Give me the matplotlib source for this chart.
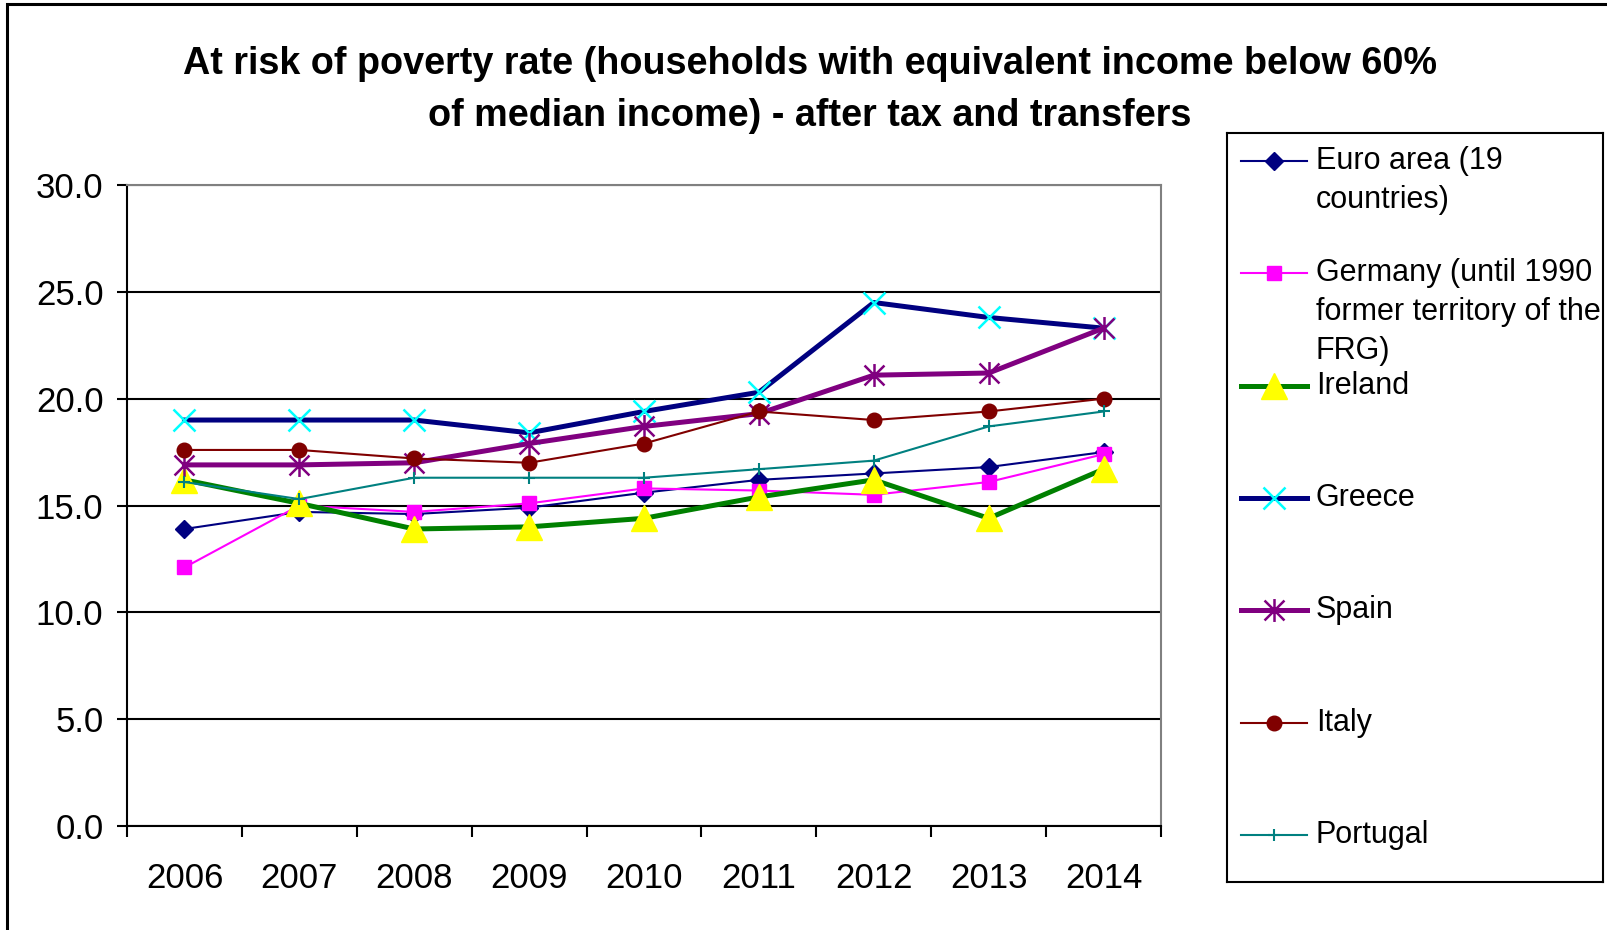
import numpy as np
import matplotlib
matplotlib.use("Agg")
import matplotlib.pyplot as plt
from matplotlib.path import Path
from matplotlib.patches import Rectangle

plt.rcParams['font.family'] = ['Liberation Sans', 'DejaVu Sans']

# at-risk-of-poverty rate, % of households
years = ['2006', '2007', '2008', '2009', '2010', '2011', '2012', '2013', '2014']
euro_area = [13.9, 14.7, 14.6, 14.9, 15.6, 16.2, 16.5, 16.8, 17.5]
germany = [12.1, 15.0, 14.7, 15.1, 15.8, 15.7, 15.5, 16.1, 17.4]
ireland = [16.2, 15.1, 13.9, 14.0, 14.4, 15.4, 16.2, 14.4, 16.7]
greece = [19.0, 19.0, 19.0, 18.4, 19.4, 20.3, 24.5, 23.8, 23.3]
spain = [16.9, 16.9, 17.0, 17.9, 18.7, 19.3, 21.1, 21.2, 23.3]
italy = [17.6, 17.6, 17.2, 17.0, 17.9, 19.4, 19.0, 19.4, 20.0]
portugal = [16.1, 15.3, 16.3, 16.3, 16.3, 16.7, 17.1, 18.7, 19.4]

labels = ['Euro area (19\ncountries)',
          'Germany (until 1990\nformer territory of the\nFRG)',
          'Ireland', 'Greece', 'Spain', 'Italy', 'Portugal']

title = ('At risk of poverty rate (households with equivalent income below 60%\n'
         'of median income) - after tax and transfers')

# asterisk marker: an x with a vertical bar through it
asterisk = Path([(-1, -1), (1, 1), (-1, 1), (1, -1), (0, -1.15), (0, 1.15)],
                [Path.MOVETO, Path.LINETO, Path.MOVETO, Path.LINETO, Path.MOVETO, Path.LINETO])

styles = [
    dict(color='#000080', lw=1.5, marker='D', ms=9.5, mfc='#000080', mec='#000080'),
    dict(color='#FF00FF', lw=1.5, marker='s', ms=10, mfc='#FF00FF', mec='#FF00FF'),
    dict(color='#008000', lw=3.6, marker='^', ms=18.5, mfc='#FFFF00', mec='#FFFF00'),
    dict(color='#000080', lw=3.6, marker='x', ms=15.5, mec='#00FFFF', mew=1.8),
    dict(color='#800080', lw=3.6, marker=asterisk, ms=16.5, mfc='none', mec='#800080', mew=1.8),
    dict(color='#800000', lw=1.5, marker='o', ms=10.5, mfc='#800000', mec='#800000'),
    dict(color='#008080', lw=1.5, marker='+', ms=9, mec='#008080', mew=1.5),
]
series = [euro_area, germany, ireland, greece, spain, italy, portugal]

W, H = 1608, 930
fig = plt.figure(figsize=(W / 100, H / 100), dpi=100)

# frame around the whole chart
fig.add_artist(Rectangle((7 / W, -0.05), 2, 1.05 - 4 / H, transform=fig.transFigure,
                         fill=False, lw=2.2, ec='black', clip_on=False))

ax = fig.add_axes([127 / W, 1 - 826 / H, (1161 - 127) / W, (826 - 185) / H])
x = np.arange(len(years))
for vals, st in zip(series, styles):
    ax.plot(x, vals, **st)

ax.set_xlim(-0.5, len(years) - 0.5)
ax.set_ylim(0, 30)
ax.set_yticks(np.arange(0, 31, 5))
ax.set_yticklabels([f'{v:.1f}' for v in np.arange(0, 31, 5)])
ax.set_xticks(x)
ax.set_xticklabels(years)
ax.set_xticks(np.arange(-0.5, len(years)), minor=True)
ax.tick_params(axis='y', direction='out', length=7, width=1.5, labelsize=25, pad=10)
ax.tick_params(axis='x', which='major', length=0, labelsize=25, pad=26)
ax.tick_params(axis='x', which='minor', direction='out', length=8, width=1.5)
ax.set_axisbelow(True)
ax.yaxis.grid(True, color='black', lw=1.5)
for side in ['left', 'bottom']:
    ax.spines[side].set_color('black')
    ax.spines[side].set_linewidth(1.5)
for side in ['top', 'right']:
    ax.spines[side].set_color('#808080')
    ax.spines[side].set_linewidth(1.5)

fig.text(810 / W, 1 - 90 / H, title, ha='center', va='center', fontsize=27.2,
         fontweight='bold', linespacing=1.58)

# legend box drawn by hand so labels sit top-aligned with their keys
lg = fig.add_axes([1227 / W, 1 - 882 / H, (1603 - 1227) / W, (882 - 133) / H])
lg.set_xlim(0, 376)
lg.set_ylim(749, 0)
lg.set_xticks([])
lg.set_yticks([])
for s in lg.spines.values():
    s.set_color('black')
    s.set_linewidth(1.5)
for i, (lab, st) in enumerate(zip(labels, styles)):
    y = 28 + i * 112.3
    line_st = {k: v for k, v in st.items() if k in ('color', 'lw')}
    mark_st = {k: v for k, v in st.items() if k not in ('color', 'lw')}
    lg.plot([14, 80], [y, y], **line_st)
    lg.plot([47], [y], ls='none', **mark_st)
    for k, part in enumerate(lab.split('\n')):
        lg.text(89, y + k * 39, part, fontsize=22, va='center', ha='left')

fig.savefig('out.png', dpi=100)
